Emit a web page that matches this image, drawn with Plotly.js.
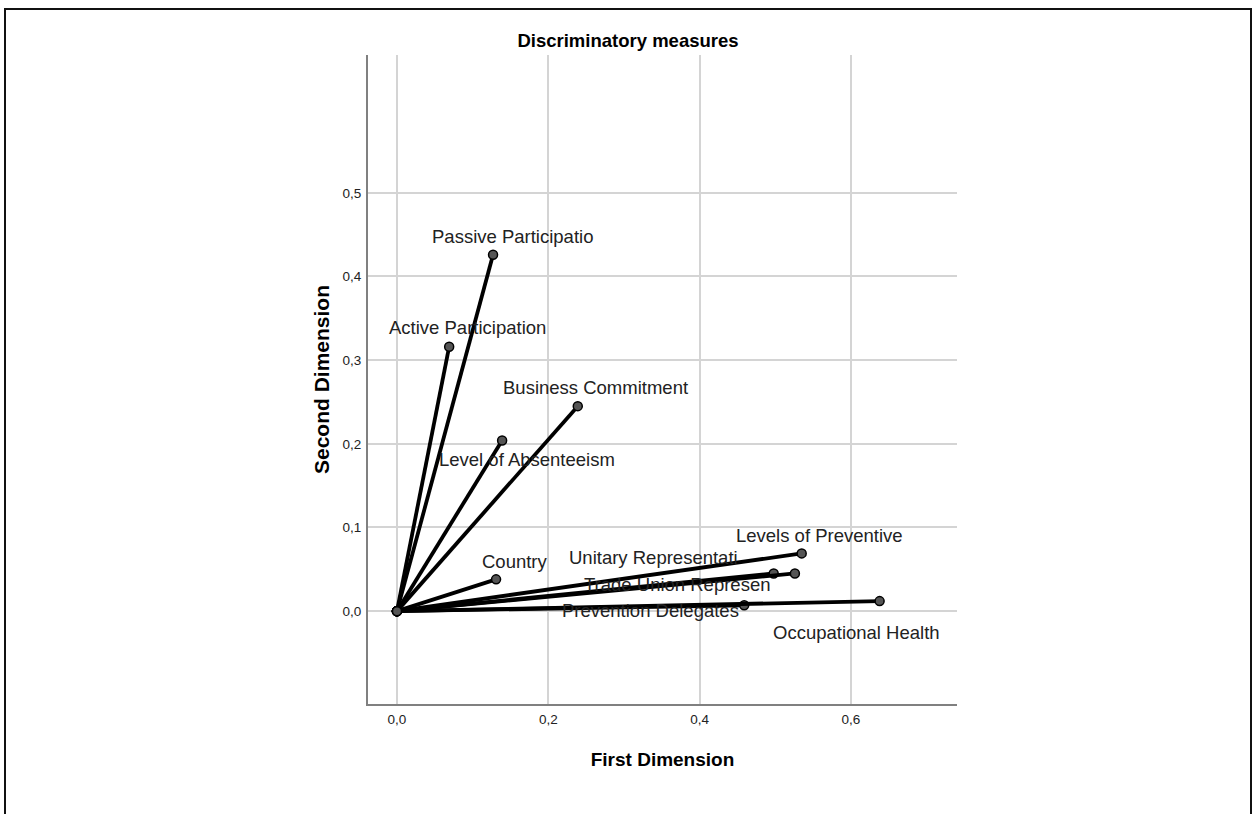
<!DOCTYPE html>
<html>
<head>
<meta charset="utf-8">
<script src="https://cdn.plot.ly/plotly-3.0.1.min.js"></script>
<style>html,body{margin:0;padding:0;background:#fff;}#chart{width:1256px;height:814px;}</style>
</head>
<body>
<div id="chart"></div>
<script>
// Data (discrimination measures)
const variables = ["Passive Participatio", "Active Participation", "Business Commitment", "Level of Absenteeism", "Country", "Levels of Preventive", "Unitary Representati", "Trade Union Represen", "Prevention Delegates", "Occupational Health"];
const firstDimension  = [0.127, 0.069, 0.239, 0.139, 0.131, 0.535, 0.498, 0.526, 0.459, 0.638];
const secondDimension = [0.426, 0.316, 0.245, 0.204, 0.038, 0.069, 0.045, 0.045, 0.007, 0.012];
const xTickVals = [0, 0.2, 0.4, 0.6];
const yTickVals = [0, 0.1, 0.2, 0.3, 0.4, 0.5];

// label placement offsets in pixels (styling)
const labelShift = [[19,18],[18,19],[18,19],[25,-19],[19,18],[18,18],[-120,16],[-118,-11],[-94,-5],[-23,-31]];

const traces = variables.map((v, i) => ({
  type: 'scatter',
  mode: 'lines+markers',
  x: [0, firstDimension[i]],
  y: [0, secondDimension[i]],
  name: v,
  line: {color: '#000', width: 3.8},
  marker: {size: 9, color: '#555', line: {color: '#000', width: 1.5}},
  hoverinfo: 'x+y+name',
  showlegend: false
}));

const annotations = variables.map((v, i) => ({
  x: firstDimension[i], y: secondDimension[i], xref: 'x', yref: 'y',
  text: v, showarrow: false,
  xanchor: 'center', yanchor: 'middle',
  xshift: labelShift[i][0], yshift: labelShift[i][1],
  font: {family: 'Liberation Sans, Arial, sans-serif', size: 18.5, color: '#222'}
}));

const layout = {
  width: 1256, height: 814,
  paper_bgcolor: '#fff', plot_bgcolor: '#fff',
  separators: ',.',
  margin: {l: 368, r: 299, t: 55, b: 110},
  font: {family: 'Liberation Sans, Arial, sans-serif', color: '#000'},
  title: {text: '<b>Discriminatory measures</b>', font: {size: 18.5, color: '#000'},
          xref: 'container', x: 0.5, xanchor: 'center', yref: 'container', y: 1 - 41/814, yanchor: 'middle'},
  xaxis: {
    range: [-0.0383, 0.7403], tickvals: xTickVals, tickformat: '.1f',
    showgrid: true, gridcolor: '#d4d4d4', gridwidth: 2,
    zeroline: false, showline: true, linecolor: '#808080', linewidth: 2,
    ticks: '', ticklabelstandoff: 2, tickfont: {size: 13.5, color: '#222'},
    title: {text: '<b>First Dimension</b>', font: {size: 19, color: '#000'}, standoff: 26},
    automargin: false
  },
  yaxis: {
    range: [-0.111, 0.6647], tickvals: yTickVals, tickformat: '.1f',
    showgrid: true, gridcolor: '#d4d4d4', gridwidth: 2,
    zeroline: false, showline: true, linecolor: '#808080', linewidth: 2,
    ticks: '', ticklabelstandoff: 2, tickfont: {size: 13.5, color: '#222'},
    title: {text: '<b>Second Dimension</b>', font: {size: 21, color: '#000'}, standoff: 7},
    automargin: false
  },
  annotations: annotations,
  shapes: [{
    type: 'rect', xref: 'paper', yref: 'paper',
    x0: (5 - 368) / 589, x1: (1251 - 368) / 589,
    y0: (704 - 830) / 649, y1: (704 - 9) / 649,
    line: {color: '#111', width: 2}, fillcolor: 'rgba(0,0,0,0)', layer: 'above'
  }]
};

Plotly.newPlot('chart', traces, layout, {displayModeBar: false, staticPlot: true});
</script>
</body>
</html>
